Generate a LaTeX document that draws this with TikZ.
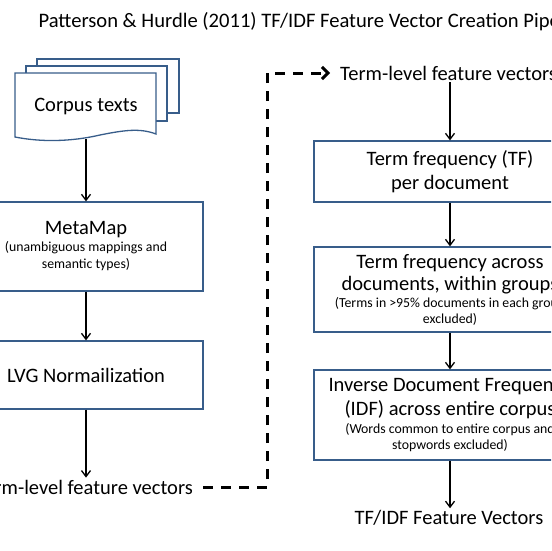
\documentclass[tikz,border=0pt]{standalone}
\usepackage{fontspec}
\setmainfont{Carlito}
\usetikzlibrary{arrows.meta,positioning}

\definecolor{boxblue}{HTML}{385D8A}
\newcommand{\mainfs}{\fontsize{20.5}{24}\selectfont}
\newcommand{\subfs}{\fontsize{13.8}{16}\selectfont}
\tikzset{
	stage/.style={draw=boxblue, line width=1.3pt, align=center, fill=white, font=\mainfs},
	flow/.style={-{Straight Barb[length=6pt,width=9pt]}, line width=1.3pt},
	jump/.style={line width=3pt, dash pattern=on 10pt off 8pt,
		-{Straight Barb[length=6pt,width=12pt,line width=3pt]}},
	doc/.style={draw=boxblue, line width=1.3pt, fill=white},
}

\begin{document}
\begin{tikzpicture}[x=1pt,y=-1pt]
	\useasboundingbox (0,0) rectangle (551,551);
	\clip (0,0) rectangle (551,551);

	\node[anchor=base west, font=\fontsize{20.6}{24}\selectfont] (title) at (35,28)
		{Patterson \& Hurdle (2011) TF/IDF Feature Vector Creation Pipeline};

	% stack of corpus documents
	\draw[doc] (37,59) rectangle (179,113);
	\draw[doc] (26,66) rectangle (167,121);
	\draw[doc] (15,73) -- (156,73) -- (156,134)
		.. controls (140,128) and (125,130) .. (100,135)
		.. controls (70,142) and (40,142) .. (15,137) -- cycle;
	\node[minimum width=142pt, minimum height=66pt, inner sep=0pt, font=\mainfs] (corpus) at (86,106) {Corpus texts};

	% left column
	\node[stage, minimum width=234pt, minimum height=89pt] (meta) at (86,246.5)
		{MetaMap\\[-7pt]{\subfs (unambiguous mappings and}\\[-7pt]{\subfs semantic types)}};
	\node[stage, minimum width=234pt, minimum height=68pt] (lvg) at (86,375) {LVG Normailization};
	\node[anchor=east, inner sep=2pt, font=\mainfs] (tlvleft) at (195,487) {Term-level feature vectors};

	\draw[flow] (corpus.south) -- (meta.north);
	\draw[flow] (meta.south) -- (lvg.north);
	\draw[flow] (lvg.south) -- (lvg.south |- tlvleft.north);

	% right column
	\node[anchor=west, inner sep=2pt, font=\mainfs] (tlvright) at (338,73) {Term-level feature vectors};
	\node[stage, minimum width=272pt, minimum height=61pt] (tf) at (450,171.5)
		{Term frequency (TF)\\per document};
	\node[stage, minimum width=272pt, minimum height=85pt] (grp) at (450,289.5)
		{Term frequency across\\[-2pt]documents, within groups\\[-7pt]{\subfs (Terms in >95\% documents in each group}\\[-8pt]{\subfs excluded)}};
	\node[stage, minimum width=272pt, minimum height=90pt] (idf) at (450,415)
		{Inverse Document Frequency\\(IDF) across entire corpus\\[-6pt]{\subfs (Words common to entire corpus and}\\[-8pt]{\subfs stopwords excluded)}};
	\node[inner sep=2pt, font=\mainfs] (tfidf) at (449,518) {TF/IDF Feature Vectors};

	\draw[flow] (tlvright.south -| tf.north) -- (tf.north);
	\draw[flow] (tf.south) -- (grp.north);
	\draw[flow] (grp.south) -- (idf.north);
	\draw[flow] (idf.south) -- (tfidf.north -| idf.south);

	% hand-over between the columns
	\draw[jump, shorten >=8pt, shorten <=8pt] (tlvleft.east) -- ++(72,0) |- (tlvright.west);
\end{tikzpicture}
\end{document}
